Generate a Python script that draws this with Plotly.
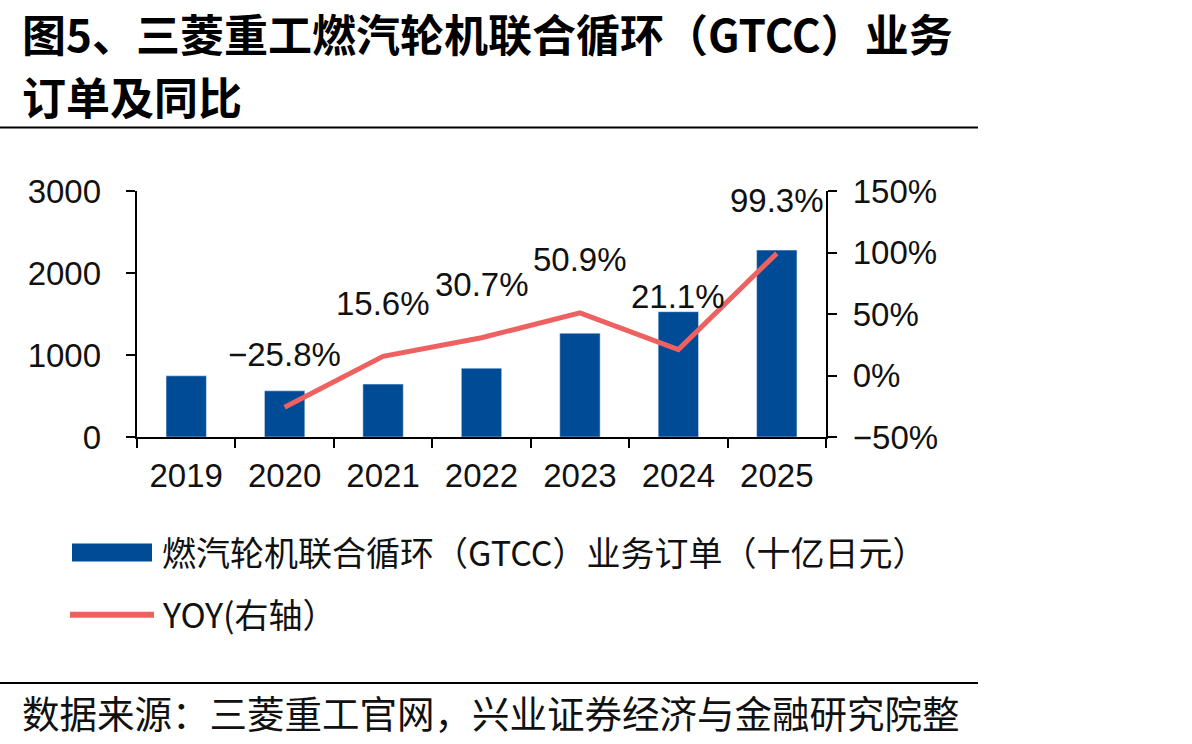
import plotly.graph_objects as go

years = [2019, 2020, 2021, 2022, 2023, 2024, 2025]
orders = [746, 563, 645, 839, 1265, 1528, 2279]
yoy_years = [2020, 2021, 2022, 2023, 2024, 2025]
yoy = [-25.8, 15.6, 30.7, 50.9, 21.1, 99.3]
left_ticks = [0, 1000, 2000, 3000]
right_ticks = [-50, 0, 50, 100, 150]

title_line1 = "图5、三菱重工燃汽轮机联合循环（GTCC）业务"
title_line2 = "订单及同比"
bar_name = "燃汽轮机联合循环（GTCC）业务订单（十亿日元）"
line_name = "YOY(右轴）"
source_text = "数据来源：三菱重工官网，兴业证券经济与金融研究院整"

W, H = 1192, 744
L, R, T, B = 137, 826, 190.7, 437.3
PW, PH = R - L, B - T

def px(x):
    return (x - L) / PW

def py(y):
    return (B - y) / PH

def pct(v, nd=0):
    return (f"{v:.{nd}f}%").replace("-", "−")

NB = "\u00a0"
BAR_C = "#004B96"
LINE_C = "#EE6161"
NUM_FONT = "Liberation Sans, Arial, sans-serif"
CJK_FONT = "Noto Sans CJK SC, sans-serif"

fig = go.Figure()
fig.add_trace(go.Bar(x=years, y=orders, marker_color=BAR_C, width=0.41,
                     name=bar_name, showlegend=False))
fig.add_trace(go.Scatter(x=yoy_years, y=yoy, yaxis="y2", mode="lines",
                         line=dict(color=LINE_C, width=5), name=line_name,
                         showlegend=False))

ann = []
for xv, v in zip(yoy_years, yoy):
    ann.append(dict(x=xv, y=v, xref="x", yref="y2", yshift=53, showarrow=False,
                    text=pct(v, 1),
                    font=dict(family=NUM_FONT, size=33, color="#111")))

ann += [
    dict(x=px(20), y=py(32), xref="paper", yref="paper", xanchor="left", yanchor="middle",
         showarrow=False, text=f"<b>{title_line1}</b>",
         font=dict(family=CJK_FONT, size=44, color="#000")),
    dict(x=px(20), y=py(95), xref="paper", yref="paper", xanchor="left", yanchor="middle",
         showarrow=False, text=f"<b>{title_line2}</b>",
         font=dict(family=CJK_FONT, size=44, color="#000")),
    dict(x=px(160), y=py(552), xref="paper", yref="paper", xanchor="left", yanchor="middle",
         showarrow=False, text=bar_name,
         font=dict(family=CJK_FONT, size=34, color="#111")),
    dict(x=px(160), y=py(614), xref="paper", yref="paper", xanchor="left", yanchor="middle",
         showarrow=False, text=line_name,
         font=dict(family=CJK_FONT, size=34, color="#111")),
    dict(x=px(20), y=py(712), xref="paper", yref="paper", xanchor="left", yanchor="middle",
         showarrow=False, text=source_text,
         font=dict(family=CJK_FONT, size=37.5, color="#111")),
]

shapes = [
    dict(type="line", xref="paper", yref="paper", x0=px(0), x1=px(978), y0=py(127), y1=py(127),
         line=dict(color="#000", width=2)),
    dict(type="line", xref="paper", yref="paper", x0=px(0), x1=px(978), y0=py(684), y1=py(684),
         line=dict(color="#000", width=2)),
    dict(type="rect", xref="paper", yref="paper", x0=px(72), x1=px(152), y0=py(544), y1=py(562),
         fillcolor=BAR_C, line=dict(width=0)),
    dict(type="line", xref="paper", yref="paper", x0=px(70), x1=px(154), y0=py(615.5), y1=py(615.5),
         line=dict(color=LINE_C, width=6)),
]

axis_font = dict(family=NUM_FONT, size=33, color="#111")
fig.update_layout(
    width=W, height=H,
    margin=dict(l=L, r=W - R, t=T, b=H - B, pad=0),
    paper_bgcolor="white", plot_bgcolor="white",
    showlegend=False,
    xaxis=dict(range=[years[0] - 0.5, years[-1] + 0.5], showline=True, linecolor="#000",
               linewidth=2, tickmode="array", tickvals=years,
               ticktext=[str(y) for y in years], ticks="outside", ticklen=8,
               tickcolor="rgba(0,0,0,0)", showgrid=False,
               zeroline=False, tickfont=axis_font,
               minor=dict(ticks="outside", ticklen=9, tickwidth=2, tickcolor="#000",
                          tick0=years[0] - 0.5, dtick=1, showgrid=False)),
    yaxis=dict(range=[left_ticks[0], left_ticks[-1]], tickmode="array", tickvals=left_ticks,
               ticktext=[f"{v}{NB}{NB}" for v in left_ticks], showline=True,
               linecolor="#000", linewidth=2, ticks="outside", ticklen=9, tickwidth=2,
               tickcolor="#000", showgrid=False, zeroline=False, tickfont=axis_font),
    yaxis2=dict(range=[right_ticks[0], right_ticks[-1]], tickmode="array", tickvals=right_ticks,
                ticktext=[NB + pct(v) for v in right_ticks],
                overlaying="y", side="right", showline=True, linecolor="#000", linewidth=2,
                ticks="outside", ticklen=9, tickwidth=2, tickcolor="#000", showgrid=False,
                zeroline=False, tickfont=axis_font),
    annotations=ann, shapes=shapes,
)

fig.write_html("out.html")
